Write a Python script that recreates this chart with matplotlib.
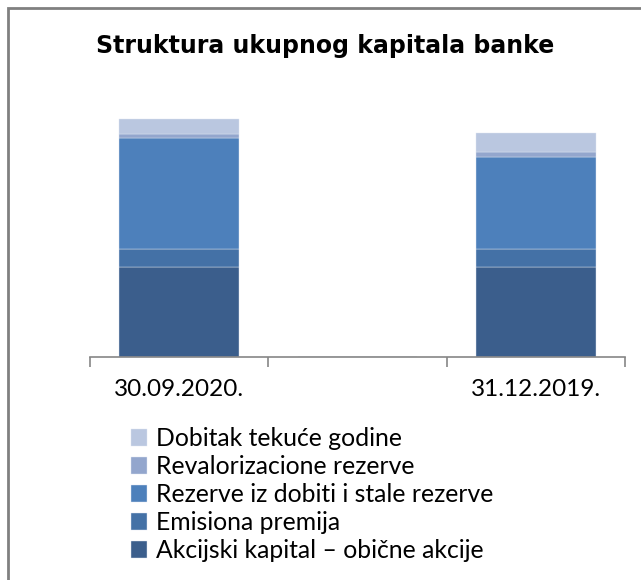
import numpy as np
import matplotlib
matplotlib.use("Agg")
import matplotlib.pyplot as plt
from matplotlib.patches import Rectangle

# podaci (procijenjeno sa slike), srednja kategorija je prazna
categories = ["30.09.2020.", "", "31.12.2019."]
series = ["Akcijski kapital – obične akcije", "Emisiona premija",
          "Rezerve iz dobiti i stale rezerve", "Revalorizacione rezerve",
          "Dobitak tekuće godine"]
akcijski = [90, 0, 90]
emisiona = [18, 0, 18]
rezerve = [111, 0, 92]
revalorizacione = [4, 0, 5]
dobitak = [15, 0, 19]
colors = ["#3B5E8C", "#4471A6", "#4D80BB", "#93A6CD", "#BAC7E0"]

plt.rcParams["font.family"] = ["Lato", "DejaVu Sans"]

W, H = 641, 580
fig = plt.figure(figsize=(W / 100, H / 100), dpi=100)
ax = fig.add_axes([89.7 / W, 1 - 357 / H, 535.8 / W, 260 / H])

x = np.arange(len(categories))
bottom = np.zeros(len(categories))
for name, vals, c in zip(series, [akcijski, emisiona, rezerve, revalorizacione, dobitak], colors):
    v = np.array(vals, dtype=float)
    ax.bar(x, v, 0.67, bottom=bottom, color=c, edgecolor="#dfe6f1", linewidth=0.3, label=name)
    bottom += v

ax.set_xlim(-0.5, 2.5)
ax.set_ylim(0, 260)
for s in ["top", "right", "left"]:
    ax.spines[s].set_visible(False)
ax.spines["bottom"].set_color("#868686")
ax.spines["bottom"].set_linewidth(1.2)
ax.set_yticks([])
ax.set_xticks(x)
ax.set_xticklabels(categories, fontsize=17.5)
ax.tick_params(axis="x", which="major", length=0, pad=16)
ax.set_xticks([-0.5, 0.5, 1.5, 2.5], minor=True)
ax.tick_params(axis="x", which="minor", length=7, width=1.2, color="#868686", direction="out")

fig.text(325 / W, 1 - 46 / H, "Struktura ukupnog kapitala banke", ha="center", va="center",
         fontsize=17, fontweight="bold", family="DejaVu Sans")

handles, labels = ax.get_legend_handles_labels()
leg = fig.legend(handles[::-1], labels[::-1], loc="upper left",
                 bbox_to_anchor=(119 / W, 1 - 415 / H), frameon=False, fontsize=17.8,
                 handlelength=0.65, handleheight=0.65, handletextpad=0.35, labelspacing=0.2,
                 borderpad=0)

# okvir oko grafikona
fig.patches.append(Rectangle((8 / W, -0.1), 1.2, (1 - 8 / H) + 0.1, transform=fig.transFigure,
                             fill=False, edgecolor="#808080", linewidth=2))

fig.savefig("out.png", dpi=100)
